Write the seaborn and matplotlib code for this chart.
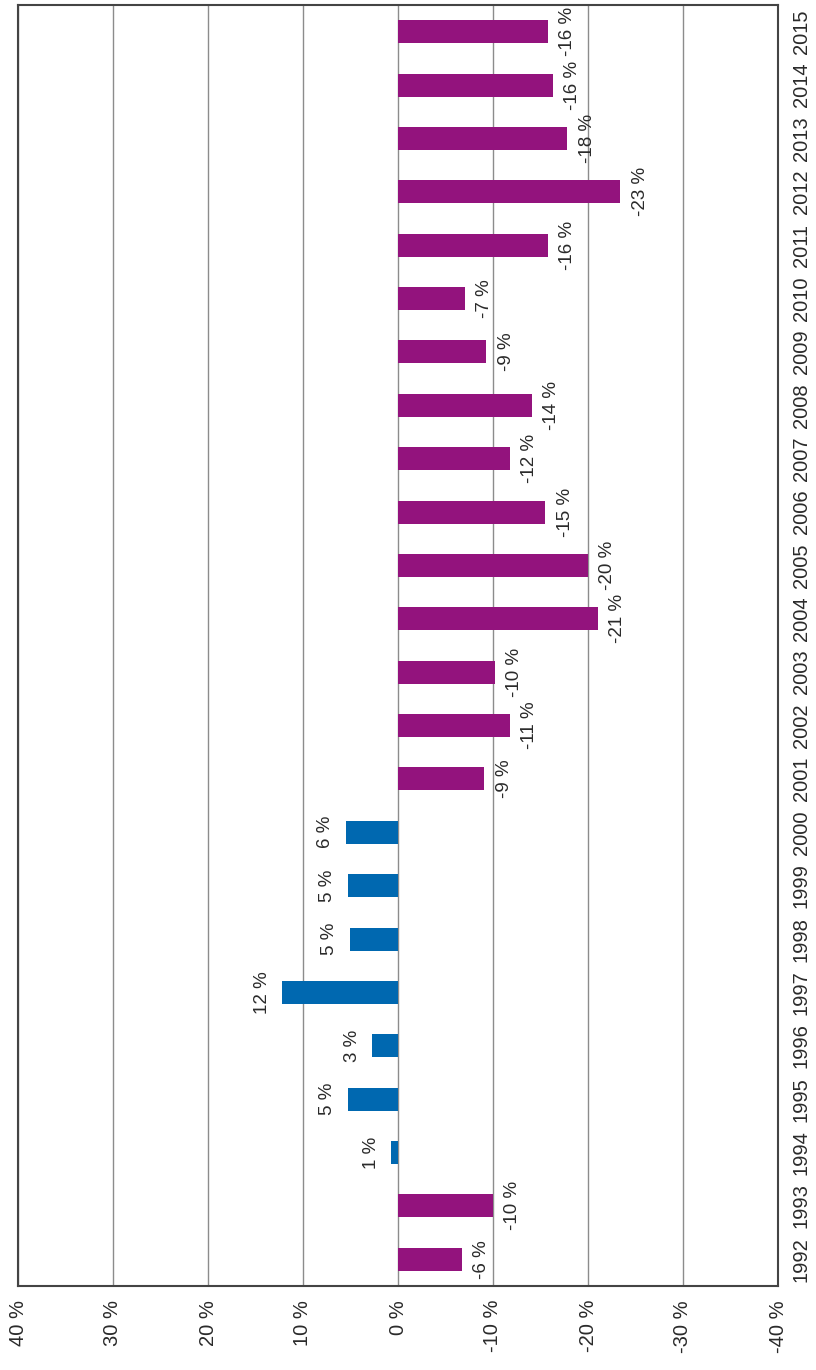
import pandas as pd
import numpy as np
import matplotlib.pyplot as plt
import seaborn as sns

years = [str(y) for y in range(1992, 2016)]
values = [-6.7, -10.0, 0.7, 5.3, 2.7, 12.2, 5.1, 5.3, 5.5, -9.1, -11.8, -10.2,
          -21.0, -20.0, -15.5, -11.8, -14.1, -9.3, -7.0, -15.8, -23.4, -17.8, -16.3, -15.8]
labels = ["-6 %", "-10 %", "1 %", "5 %", "3 %", "12 %", "5 %", "5 %", "6 %", "-9 %",
          "-11 %", "-10 %", "-21 %", "-20 %", "-15 %", "-12 %", "-14 %", "-9 %", "-7 %",
          "-16 %", "-23 %", "-18 %", "-16 %", "-16 %"]
xticks = [40, 30, 20, 10, 0, -10, -20, -30, -40]

purple = "#93137D"
blue = "#0068B0"

df = pd.DataFrame({"year": years, "value": values, "label": labels})
df["sign"] = np.where(df["value"] >= 0, "pos", "neg")

sns.set_theme(style="white")
plt.rcParams["font.family"] = ["Liberation Sans", "DejaVu Sans"]

fig = plt.figure(figsize=(8.16, 13.7), dpi=100)
ax = fig.add_axes([18 / 816, 1 - 1286 / 1370, 760 / 816, 1281 / 1370])

ax.grid(axis="x", color="#8c8c8c", linewidth=1.0)
ax.set_axisbelow(True)

sns.barplot(data=df, y="year", x="value", hue="sign", order=years,
            palette={"pos": blue, "neg": purple}, orient="h", dodge=False,
            width=0.43, legend=False, saturation=1, linewidth=0, ax=ax)

ax.set_xlim(40, -40)
ax.set_ylim(-0.5, len(years) - 0.5)

# bar labels, rotated like the rest of the chart
for i, (v, lab) in enumerate(zip(values, labels)):
    if v < 0:
        ax.text(v - 1.2, i, lab, rotation=90, ha="left", va="center",
                fontsize=13.5, color="#2a2a2a")
    else:
        ax.text(v + 1.2, i, lab, rotation=90, ha="right", va="center",
                fontsize=13.5, color="#2a2a2a")

ax.set_xticks(xticks)
ax.set_xticklabels([f"{t} %" for t in xticks], rotation=90, fontsize=14.5, color="#2a2a2a")
ax.yaxis.tick_right()
ax.set_yticks(range(len(years)))
ax.set_yticklabels(years, rotation=90, va="center", fontsize=14.5, color="#2a2a2a")
ax.tick_params(axis="x", length=0, pad=10)
ax.tick_params(axis="y", length=0, pad=10)
ax.set_xlabel("")
ax.set_ylabel("")

for side in ["left", "right", "top", "bottom"]:
    ax.spines[side].set_visible(True)
    ax.spines[side].set_color("#444444")
    ax.spines[side].set_linewidth(1.5)

fig.savefig("out.png", dpi=100)
